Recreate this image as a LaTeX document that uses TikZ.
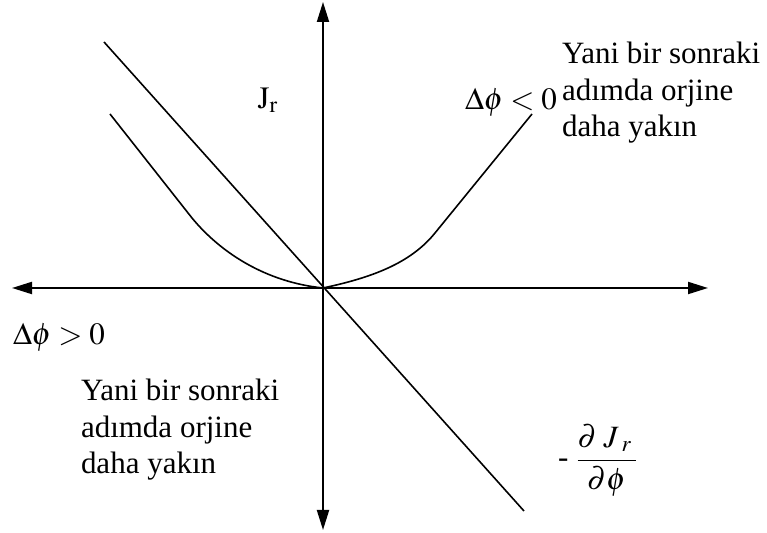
\documentclass[tikz,border=0pt]{standalone}
\usepackage{mathptmx}
\usepackage[no-math]{fontspec}
\setmainfont{Liberation Serif}
\usetikzlibrary{arrows.meta}
\begin{document}
\begin{tikzpicture}[x=0.5pt,y=-0.5pt,line width=1pt,
  every node/.style={inner sep=0pt,font=\fontsize{15.5pt}{18.25pt}\selectfont},
  axis/.style={-{Triangle[length=10pt,width=6pt]}},
  note/.style={align=left,anchor=west},
  sym/.style={anchor=base west}]
\useasboundingbox (0,0) rectangle (767,533);
% axes
\coordinate (o) at (323,288);
\coordinate (l) at (12,288);
\coordinate (r) at (708,288);
\coordinate (t) at (323,2);
\coordinate (b) at (323,530);
\draw[axis] (o)--(l);\draw[axis] (o)--(r);
\draw[axis] (o)--(t);\draw[axis] (o)--(b);
% gradient line and cost curve
\coordinate (g1) at (104,42);
\coordinate (g2) at (524,511);
\draw[line width=0.8pt] (g1)--(g2);
\draw[line width=0.8pt] (110,114)--(192,218) .. controls (220,252) and (265,282) .. (o)
  .. controls (370,278) and (410,264) .. (435,233)--(532,114);
% labels
\node (jr) at (268,100) {$\mathrm{J}_\mathrm{r}$};
\node[sym] (neg) at (464,110) {$\Delta\phi<0$};
\node[note] (txta) at (561,93) {Yani bir sonraki\\adımda orjine\\daha yakın};
\node[sym] (pos) at (12,345) {$\Delta\phi>0$};
\node[note] (txtb) at (80,430) {Yani bir sonraki\\adımda orjine\\daha yakın};
\node[sym] (grad) at (557,468) {$\mbox{-}\;\displaystyle\frac{\partial\;J_{\;r}\,}{\partial\phi}$};
\end{tikzpicture}
\end{document}
